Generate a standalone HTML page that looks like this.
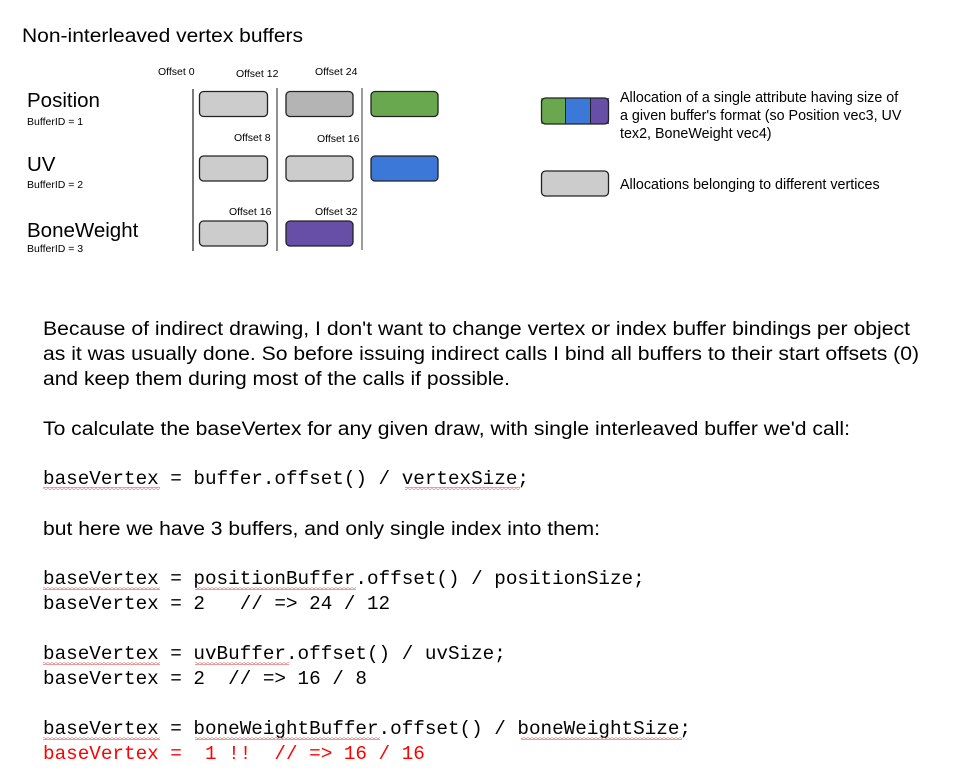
<!DOCTYPE html>
<html><head><meta charset="utf-8"><style>
html,body{margin:0;padding:0;background:#fff;width:963px;height:779px;overflow:hidden}
svg{display:block}
.s{font-family:"Liberation Sans",sans-serif;fill:#000}
.m{font-family:"Liberation Mono",monospace;font-size:19.3px;fill:#000;white-space:pre}
.b{stroke:#222;stroke-width:1.3}
</style></head><body>
<svg width="963" height="779" viewBox="0 0 963 779" xmlns="http://www.w3.org/2000/svg">
<defs>
<pattern id="sq" width="4" height="3" patternUnits="userSpaceOnUse">
<path d="M0,2.5 L2,0.5 L4,2.5" fill="none" stroke="#e05050" stroke-width="0.8"/>
</pattern>
</defs>
<text class="s" x="22" y="42" font-size="19" textLength="281" lengthAdjust="spacingAndGlyphs">Non-interleaved vertex buffers</text>

<text class="s" x="158" y="75" font-size="10.5">Offset 0</text>
<text class="s" x="236" y="77" font-size="10.5">Offset 12</text>
<text class="s" x="315" y="75" font-size="10.5">Offset 24</text>
<text class="s" x="234" y="141" font-size="10.5">Offset 8</text>
<text class="s" x="317" y="142" font-size="10.5">Offset 16</text>
<text class="s" x="229" y="215" font-size="10.5">Offset 16</text>
<text class="s" x="315" y="215" font-size="10.5">Offset 32</text>

<text class="s" x="27" y="107" font-size="20.5">Position</text>
<text class="s" x="27" y="125" font-size="10.5">BufferID = 1</text>
<text class="s" x="27" y="171" font-size="20.5">UV</text>
<text class="s" x="27" y="188" font-size="10.5">BufferID = 2</text>
<text class="s" x="27" y="237" font-size="20.5">BoneWeight</text>
<text class="s" x="27" y="252" font-size="10.5">BufferID = 3</text>

<line x1="193" y1="89" x2="193" y2="251" stroke="#333" stroke-width="1.3"/>
<line x1="277" y1="88" x2="277" y2="251" stroke="#555" stroke-width="1.3"/>
<line x1="362" y1="88" x2="362" y2="250" stroke="#666" stroke-width="1.3"/>

<rect class="b" x="199.5" y="91.5" width="68" height="25" rx="4" fill="#cccccc"/>
<rect class="b" x="286" y="91.5" width="67" height="25" rx="4" fill="#b4b4b4"/>
<rect class="b" x="371" y="91.5" width="67" height="25" rx="4" fill="#6aa84f"/>
<rect class="b" x="199.5" y="156" width="68" height="25" rx="4" fill="#cccccc"/>
<rect class="b" x="286" y="156" width="67" height="25" rx="4" fill="#cccccc"/>
<rect class="b" x="371" y="156" width="67" height="25" rx="4" fill="#3c78d8"/>
<rect class="b" x="199.5" y="221" width="68" height="25" rx="4" fill="#cccccc"/>
<rect class="b" x="286" y="221" width="67" height="25" rx="4" fill="#674ea7"/>

<rect x="541" y="98" width="25" height="26" fill="#6aa84f"/>
<rect x="566" y="98" width="25" height="26" fill="#3c78d8"/>
<rect x="591" y="98" width="18" height="26" fill="#674ea7"/>
<rect class="b" x="541.5" y="98" width="67" height="26" rx="4" fill="none"/>
<line x1="565.5" y1="98" x2="565.5" y2="124" stroke="#222" stroke-width="1"/>
<line x1="590.5" y1="98" x2="590.5" y2="124" stroke="#222" stroke-width="1"/>
<text class="s" x="620" y="102" font-size="14.3">Allocation of a single attribute having size of</text>
<text class="s" x="620" y="120" font-size="14.3">a given buffer's format (so Position vec3, UV</text>
<text class="s" x="620" y="138" font-size="14.3">tex2, BoneWeight vec4)</text>
<rect class="b" x="541.5" y="171" width="67" height="25" rx="4" fill="#cccccc"/>
<text class="s" x="620" y="189" font-size="14.3">Allocations belonging to different vertices</text>

<text class="s" x="43" y="335" font-size="19" textLength="867" lengthAdjust="spacingAndGlyphs">Because of indirect drawing, I don't want to change vertex or index buffer bindings per object</text>
<text class="s" x="43" y="360" font-size="19" textLength="876" lengthAdjust="spacingAndGlyphs">as it was usually done. So before issuing indirect calls I bind all buffers to their start offsets (0)</text>
<text class="s" x="43" y="385" font-size="19" textLength="467" lengthAdjust="spacingAndGlyphs">and keep them during most of the calls if possible.</text>
<text class="s" x="43" y="435" font-size="19" textLength="807" lengthAdjust="spacingAndGlyphs">To calculate the baseVertex for any given draw, with single interleaved buffer we'd call:</text>
<text class="s" x="43" y="535" font-size="19" textLength="557" lengthAdjust="spacingAndGlyphs">but here we have 3 buffers, and only single index into them:</text>

<text class="m" x="43" y="484">baseVertex = buffer.offset() / vertexSize;</text>
<text class="m" x="43" y="584">baseVertex = positionBuffer.offset() / positionSize;</text>
<text class="m" x="43" y="609">baseVertex = 2   // =&gt; 24 / 12</text>
<text class="m" x="43" y="659">baseVertex = uvBuffer.offset() / uvSize;</text>
<text class="m" x="43" y="684">baseVertex = 2  // =&gt; 16 / 8</text>
<text class="m" x="43" y="734">baseVertex = boneWeightBuffer.offset() / boneWeightSize;</text>
<text class="m" x="43" y="759" style="fill:#ff0000">baseVertex =  1 !!  // =&gt; 16 / 16</text>

<rect x="43" y="487" width="117" height="3" fill="url(#sq)"/>
<rect x="405" y="487" width="115" height="3" fill="url(#sq)"/>
<rect x="43" y="587" width="117" height="3" fill="url(#sq)"/>
<rect x="195" y="587" width="161" height="3" fill="url(#sq)"/>
<rect x="43" y="662" width="117" height="3" fill="url(#sq)"/>
<rect x="195" y="662" width="94" height="3" fill="url(#sq)"/>
<rect x="43" y="737" width="117" height="3" fill="url(#sq)"/>
<rect x="195" y="737" width="185" height="3" fill="url(#sq)"/>
<rect x="521" y="737" width="161" height="3" fill="url(#sq)"/>
</svg>
</body></html>
